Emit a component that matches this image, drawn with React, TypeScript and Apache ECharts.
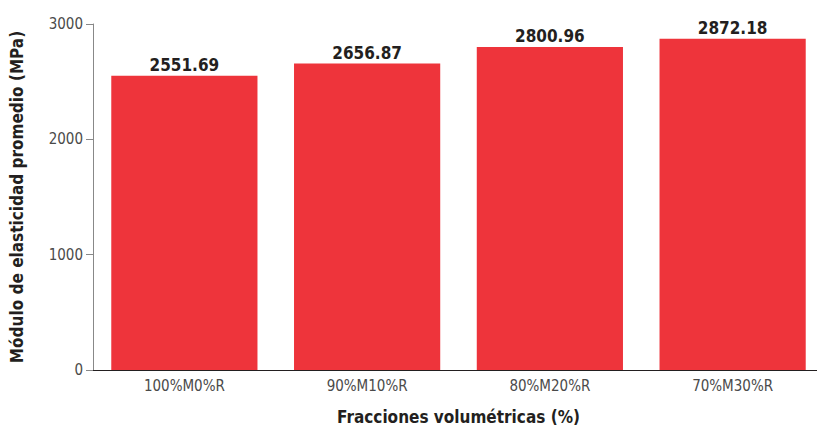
import React, { useEffect, useRef } from "react";
import * as echarts from "echarts";

const categories = ["100%M0%R", "90%M10%R", "80%M20%R", "70%M30%R"];
const values = [2551.69, 2656.87, 2800.96, 2872.18];
const yTicks = [0, 1000, 2000, 3000];

const FONT = "'DejaVu Sans Condensed', 'Liberation Sans Narrow', 'Roboto', sans-serif";

export default function App() {
  const ref = useRef<HTMLDivElement>(null);
  useEffect(() => {
    if (!ref.current) return;
    const chart = echarts.init(ref.current, null, { renderer: "svg" });
    chart.setOption({
      animation: false,
      textStyle: { fontFamily: FONT },
      grid: { left: 93, top: 24, bottom: 57, width: 731, containLabel: false },
      xAxis: {
        type: "category",
        data: categories,
        name: "Fracciones volumétricas (%)",
        nameLocation: "middle",
        nameGap: 38,
        nameTextStyle: { fontFamily: FONT, fontSize: 17, fontWeight: "bold", color: "#231f20" },
        axisLine: { lineStyle: { color: "#231f20", width: 1.2 } },
        axisTick: { show: false },
        axisLabel: { fontFamily: FONT, fontSize: 15, color: "#4a4a4a", margin: 8 },
      },
      yAxis: {
        type: "value",
        min: yTicks[0],
        max: yTicks[yTicks.length - 1],
        interval: 1000,
        name: "Módulo de elasticidad promedio (MPa)",
        nameLocation: "middle",
        nameGap: 68,
        nameTextStyle: { fontFamily: FONT, fontSize: 17, fontWeight: "bold", color: "#231f20" },
        axisLine: { show: true, lineStyle: { color: "#888", width: 1 } },
        axisTick: { show: true, length: 7, lineStyle: { color: "#888" } },
        axisLabel: {
          fontFamily: FONT,
          fontSize: 15,
          color: "#4a4a4a",
          margin: 10,
          formatter: (v: number) => String(v),
        },
        splitLine: { show: false },
      },
      series: [
        {
          type: "bar",
          data: values,
          barCategoryGap: "20%",
          itemStyle: { color: "#ee343b" },
          label: {
            show: true,
            position: "top",
            distance: 2,
            fontFamily: FONT,
            fontSize: 17,
            fontWeight: "bold",
            color: "#231f20",
            formatter: (p: any) => p.value.toFixed(2),
          },
        },
      ],
    });
    return () => chart.dispose();
  }, []);
  return (
    <div style={{ position: "absolute", left: 0, top: 0, width: 817, height: 430, overflow: "hidden" }}>
      <div ref={ref} style={{ width: 830, height: 430 }} />
    </div>
  );
}
